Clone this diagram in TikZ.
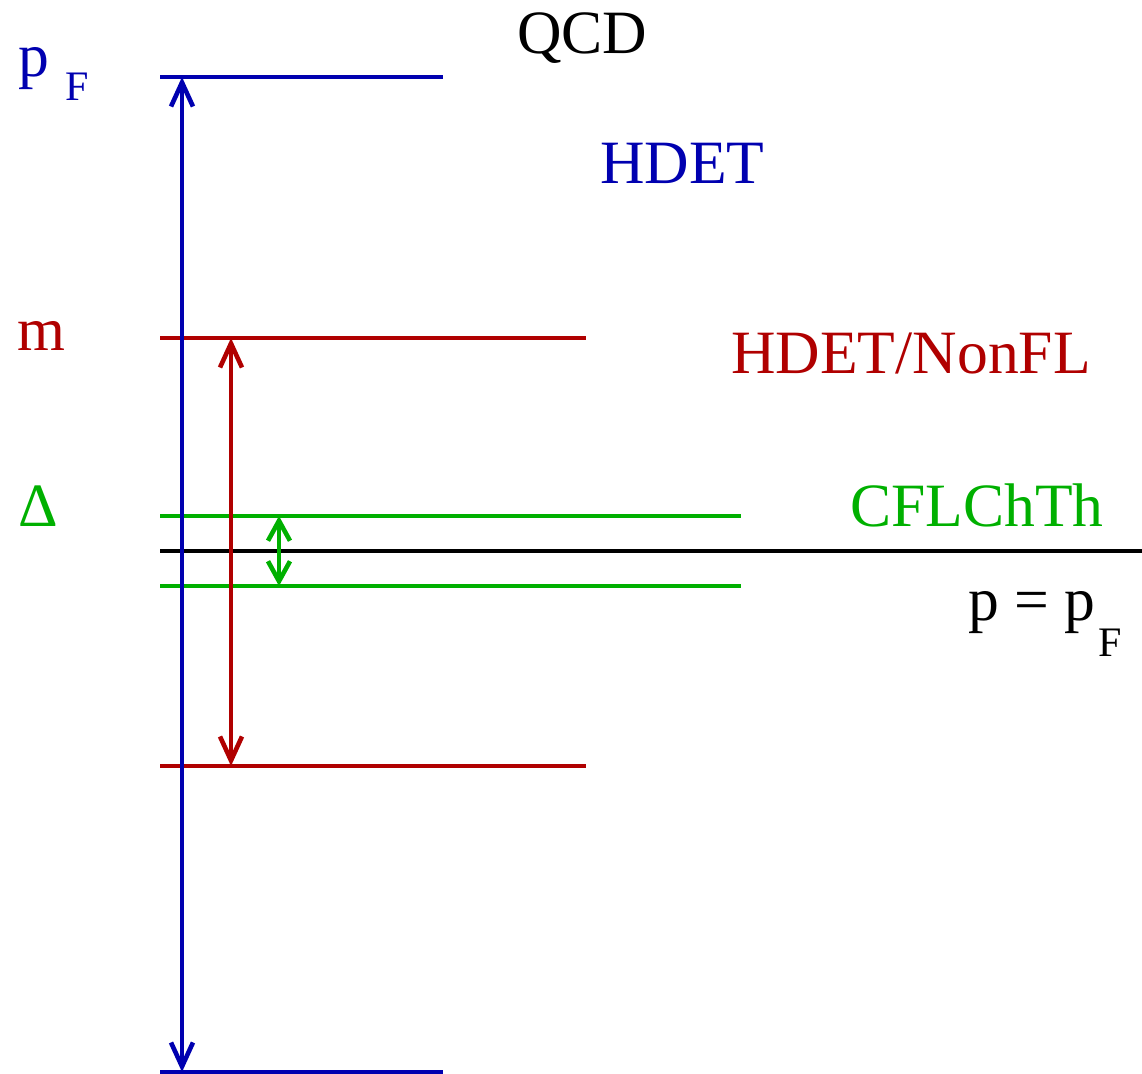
\documentclass[tikz,border=0pt]{standalone}
\usepackage{fontspec}
\setmainfont{Liberation Serif}
\usetikzlibrary{arrows.meta}
\definecolor{dblue}{RGB}{0,0,176}
\definecolor{dred}{RGB}{176,0,0}
\definecolor{dgreen}{RGB}{0,176,0}
\begin{document}
\begin{tikzpicture}[x=0.5pt,y=-0.5pt,
  lvl/.style={line width=2.3pt},
  lbl/.style={anchor=base west,inner sep=0pt,font=\fontsize{30.8}{36}\selectfont},
  sublbl/.style={anchor=base west,inner sep=0pt,font=\fontsize{21}{25}\selectfont},
  dbl/.style={line width=2.3pt,{Straight Barb[length=12pt,width=11pt]}-{Straight Barb[length=12pt,width=11pt]}},
  dbls/.style={line width=2.3pt,{Straight Barb[length=10pt,width=11pt]}-{Straight Barb[length=10pt,width=11pt]}}]
\useasboundingbox (0,0) rectangle (1142,1074);
% blue levels
\coordinate (bTl) at (160,77);  \coordinate (bTr) at (443,77);
\coordinate (bBl) at (160,1072); \coordinate (bBr) at (443,1072);
\coordinate (bTa) at (182,77);  \coordinate (bBa) at (182,1072);
% red levels
\coordinate (rTl) at (160,338); \coordinate (rTr) at (586,338);
\coordinate (rBl) at (160,766); \coordinate (rBr) at (586,766);
\coordinate (rTa) at (231,338); \coordinate (rBa) at (231,766);
% green levels
\coordinate (gTl) at (160,516); \coordinate (gTr) at (741,516);
\coordinate (gBl) at (160,586); \coordinate (gBr) at (741,586);
\coordinate (gTa) at (279,516); \coordinate (gBa) at (279,586);
% fermi surface
\coordinate (kL) at (160,551); \coordinate (kR) at (1142,551);

\draw[lvl,dblue] (bTl) -- (bTr);
\draw[lvl,dblue] (bBl) -- (bBr);
\draw[lvl,dred] (rTl) -- (rTr);
\draw[lvl,dred] (rBl) -- (rBr);
\draw[lvl,dgreen] (gTl) -- (gTr);
\draw[lvl,dgreen] (gBl) -- (gBr);
\draw[lvl,black] (kL) -- (kR);

\draw[dbl,dblue] (bTa) -- (bBa);
\draw[dbl,dred] (rTa) -- (rBa);
\draw[dbls,dgreen] (gTa) -- (gBa);

% labels
\node[lbl,dblue] (pF) at (18,77) {p};
\node[sublbl,dblue] (pFs) at (65,101) {F};
\node[lbl] (qcd) at (517,54) {QCD};
\node[lbl,dblue] (hdet) at (600,184) {HDET};
\node[lbl,dred] (m) at (17,351) {m};
\node[lbl,dred] (nonfl) at (731,374) {HDET/NonFL};
\node[lbl,dgreen] (delta) at (18,527) {Δ};
\node[lbl,dgreen] (cfl) at (850,527) {CFLChTh};
\node[lbl] (peq) at (968,621) {p = p};
\node[sublbl] (peqs) at (1098,657) {F};
\end{tikzpicture}
\end{document}
